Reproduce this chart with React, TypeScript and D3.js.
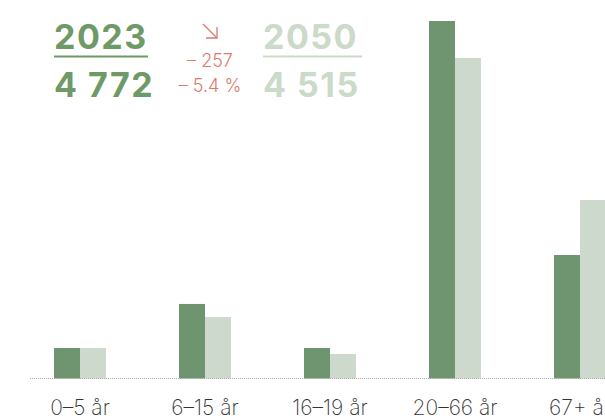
import React from 'react';
import * as d3 from 'd3';

// age groups and population per group
const categories = ['0–5 år', '6–15 år', '16–19 år', '20–66 år', '67+ år'];
const years = ['2023', '2050'];
const values2023 = [236, 577, 236, 2767, 956];
const values2050 = [236, 476, 190, 2481, 1382];
const totals = ['4 772', '4 515'];
const changeLabels = ['– 257', '– 5.4 %'];

const width = 605;
const height = 420;
const baseline = 378.5;
const topY = 21;

const darkGreen = '#6e9470';
const lightGreen = '#cdd9cc';
const headDark = '#6f9a67';
const headLight = '#cbdac9';
const red = '#d97b6c';

const App = () => {
  const x0 = d3.scaleBand()
    .domain(categories)
    .range([17.5, 642.5])
    .paddingInner(0.584)
    .paddingOuter(0.292);

  const x1 = d3.scaleBand()
    .domain(years)
    .range([0, x0.bandwidth()]);

  const y = d3.scaleLinear()
    .domain([0, d3.max(values2023)])
    .range([baseline, topY]);

  const series = [values2023, values2050];
  const colors = [darkGreen, lightGreen];

  return (
    <svg width={width} height={height}
      style={{ position: 'absolute', left: 0, top: 0, fontFamily: 'Inter, sans-serif' }}>
      {/* bars */}
      {categories.map((c, i) => (
        <g key={c} transform={`translate(${x0(c)},0)`}>
          {years.map((yr, j) => (
            <rect key={yr}
              x={x1(yr)}
              y={y(series[j][i])}
              width={x1.bandwidth()}
              height={baseline - y(series[j][i])}
              fill={colors[j]} />
          ))}
        </g>
      ))}

      {/* dotted baseline */}
      <line x1={30} x2={width} y1={baseline} y2={baseline}
        stroke="#aaa" strokeWidth={1} strokeDasharray="1,1" />

      {/* category labels */}
      {categories.map(c => (
        <text key={c} x={x0(c) + x0.bandwidth() / 2} y={414.5}
          textAnchor="middle" fontSize={21} fontWeight={200} fill="#333">
          {c}
        </text>
      ))}

      {/* header */}
      <g fontSize={34} fontWeight={700} letterSpacing={1.5}>
        <text x={54} y={49} fill={headDark}>{years[0]}</text>
        <text x={54} y={97} fill={headDark}>{totals[0]}</text>
        <text x={263} y={49} fill={headLight}>{years[1]}</text>
        <text x={263} y={97} fill={headLight}>{totals[1]}</text>
      </g>
      <line x1={54} x2={148} y1={56.5} y2={56.5} stroke={headDark} strokeWidth={2} />
      <line x1={263} x2={362} y1={56.5} y2={56.5} stroke={headLight} strokeWidth={2} />

      {/* change arrow and numbers */}
      <g stroke={red} strokeWidth={1.3} fill="none">
        <line x1={203} y1={24} x2={217} y2={38} />
        <polyline points="206,38 217,38 217,27" />
      </g>
      <g textAnchor="middle" fontSize={18} fontWeight={300} fill={red}>
        <text x={210} y={67}>{changeLabels[0]}</text>
        <text x={210} y={92}>{changeLabels[1]}</text>
      </g>
    </svg>
  );
};

export default App;
